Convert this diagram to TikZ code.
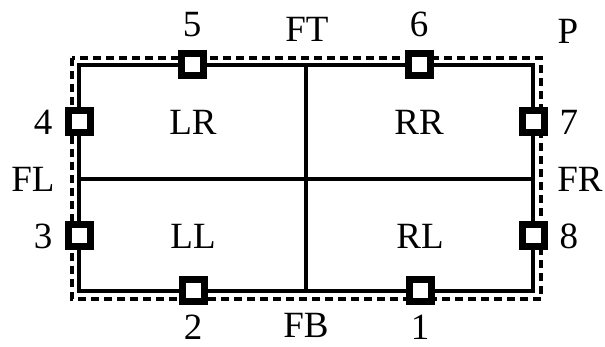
\documentclass[tikz,border=0pt]{standalone}
\usepackage{fontspec}
\setmainfont{Liberation Serif}
\usetikzlibrary{positioning}

\begin{document}
\begin{tikzpicture}[
        x=1pt, y=-1pt,
        node distance=12pt,
        wall/.style={line width=4pt},
        frame/.style={line width=3.5pt, dash pattern=on 8pt off 5pt},
        port/.style={draw, fill=white, line width=7pt, minimum size=22pt, inner sep=0pt},
        lbl/.style={inner sep=0pt, font=\fontsize{37}{40}\selectfont}
    ]
    \useasboundingbox (0,0) rectangle (605,347);
    % outer dashed frame and the four rooms
    \coordinate (ftl) at (72,58);  \coordinate (fbr) at (541,299);
    \coordinate (tl) at (79,65);   \coordinate (br) at (533,291);
    \coordinate (mt) at (306,65);  \coordinate (mb) at (306,291);
    \coordinate (ml) at (79,179);  \coordinate (mr) at (533,179);
    \draw[frame] (ftl) rectangle (fbr);
    \draw[wall] (tl) rectangle (br);
    \draw[wall] (mt) -- (mb); \draw[wall] (ml) -- (mr);
    % ports
    \node[port] (p1) at (420,291) {};
    \node[port] (p2) at (193,291) {};
    \node[port] (p3) at (79,236) {};
    \node[port] (p4) at (79,122) {};
    \node[port] (p5) at (192,65) {};
    \node[port] (p6) at (419,65) {};
    \node[port] (p7) at (533,122) {};
    \node[port] (p8) at (533,236) {};
    \node[lbl, below=9pt of p1] (n1) {1};
    \node[lbl, below=9pt of p2] (n2) {2};
    \node[lbl, left=of p3] (n3) {3};
    \node[lbl, left=of p4] (n4) {4};
    \node[lbl, above=13pt of p5] (n5) {5};
    \node[lbl, above=13pt of p6] (n6) {6};
    \node[lbl, right=of p7] (n7) {7};
    \node[lbl, right=of p8] (n8) {8};
    % rooms and sides
    \node[lbl] (lr) at (193,122) {LR};
    \node[lbl] (rr) at (419,122) {RR};
    \node[lbl] (ll) at (193,236) {LL};
    \node[lbl] (rl) at (420,236) {RL};
    \node[lbl] (ft) at (307,29) {FT};
    \node[lbl] (fb) at (306,325) {FB};
    \node[lbl] (fl) at (33,179) {FL};
    \node[lbl] (fr) at (580,179) {FR};
    \node[lbl] (pp) at (568,31) {P};
\end{tikzpicture}
\end{document}
